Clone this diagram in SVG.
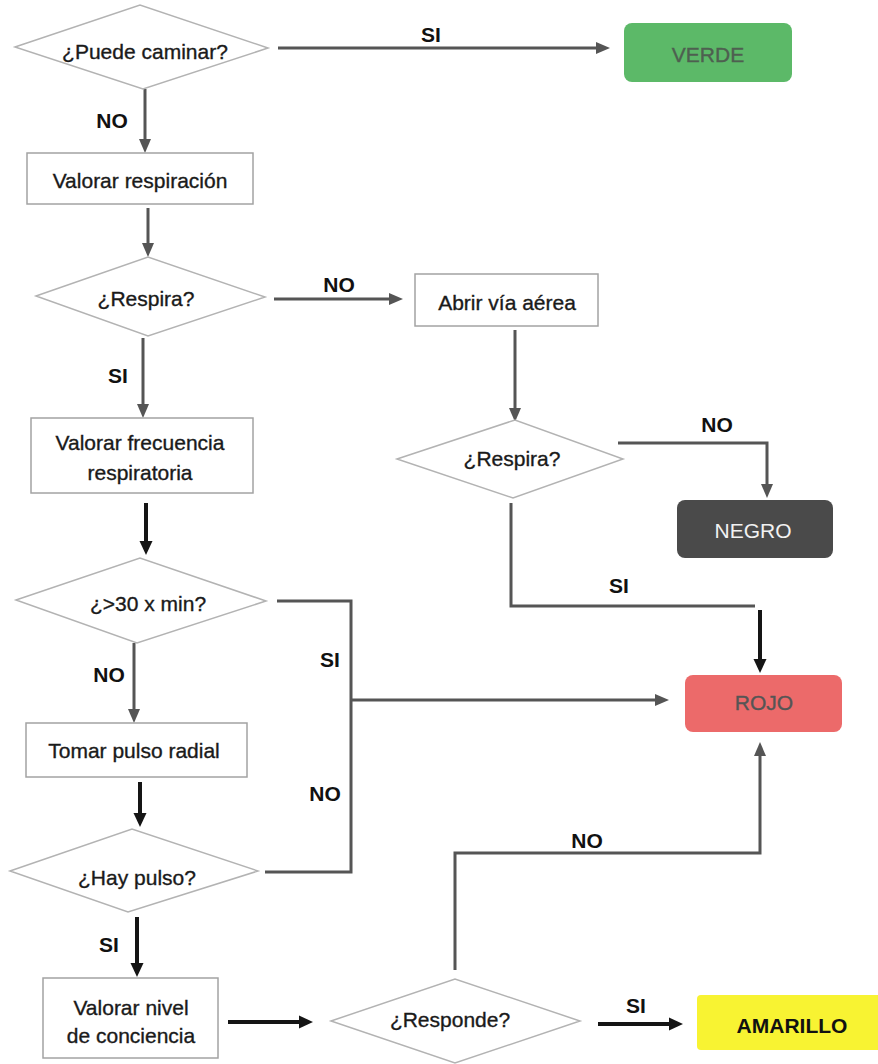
<svg xmlns="http://www.w3.org/2000/svg" width="878" height="1064" viewBox="0 0 878 1064">
<style>
.bg{fill:#ffffff}
.dia{fill:#ffffff;stroke:#b3b3b3;stroke-width:1.5}
.box{fill:#ffffff;stroke:#a3a3a3;stroke-width:1.5}
.t{font-family:"Liberation Sans",Arial,sans-serif;font-size:21px;fill:#1a1a1a;text-anchor:middle;stroke:#1a1a1a;stroke-width:0.35}
.lbl{font-family:"Liberation Sans",Arial,sans-serif;font-size:21px;font-weight:bold;fill:#111;text-anchor:middle}
.cg{fill:none;stroke:#555555;stroke-width:3}
.cb{fill:none;stroke:#151515;stroke-width:4}
</style>
<defs>
<marker id="ag" markerUnits="userSpaceOnUse" markerWidth="14" markerHeight="14" viewBox="0 0 14 14" refX="2" refY="7" orient="auto"><path d="M0,1 L14,7 L0,13 Z" fill="#555555"/></marker>
<marker id="ab" markerUnits="userSpaceOnUse" markerWidth="14" markerHeight="14" viewBox="0 0 14 14" refX="2" refY="7" orient="auto"><path d="M0,0.5 L14,7 L0,13.5 Z" fill="#151515"/></marker>
</defs>
<rect class="bg" x="0" y="0" width="878" height="1064"/>

<g id="connectors">
<path class="cg" d="M278,48 H598" marker-end="url(#ag)"/>
<path class="cg" d="M145,89 V141" marker-end="url(#ag)"/>
<path class="cg" d="M148,208 V245" marker-end="url(#ag)"/>
<path class="cg" d="M274,299 H391" marker-end="url(#ag)"/>
<path class="cg" d="M143,338 V406" marker-end="url(#ag)"/>
<path class="cg" d="M515,330 V410" marker-end="url(#ag)"/>
<path class="cg" d="M618,443 H767 V486" marker-end="url(#ag)"/>
<path class="cg" d="M511,503 V606 H755"/>
<path class="cb" d="M760,610 V661" marker-end="url(#ab)"/>
<path class="cb" d="M146,503 V543" marker-end="url(#ab)"/>
<path class="cg" d="M277,601 H351 V872 H265"/>
<path class="cg" d="M351,700 H657" marker-end="url(#ag)"/>
<path class="cg" d="M134,643 V711" marker-end="url(#ag)"/>
<path class="cb" d="M140,782 V815" marker-end="url(#ab)"/>
<path class="cb" d="M137,917 V965" marker-end="url(#ab)"/>
<path class="cb" d="M228,1022 H301" marker-end="url(#ab)"/>
<path class="cg" d="M455,970 V853 H760 V754" marker-end="url(#ag)"/>
<path class="cb" d="M598,1024 H671" marker-end="url(#ab)"/>
<text class="lbl" x="431" y="42">SI</text>
<text class="lbl" x="112" y="128">NO</text>
<text class="lbl" x="339" y="292">NO</text>
<text class="lbl" x="118" y="383">SI</text>
<text class="lbl" x="717" y="432">NO</text>
<text class="lbl" x="619" y="593">SI</text>
<text class="lbl" x="330" y="667">SI</text>
<text class="lbl" x="109" y="682">NO</text>
<text class="lbl" x="325" y="801">NO</text>
<text class="lbl" x="587" y="848">NO</text>
<text class="lbl" x="109" y="952">SI</text>
<text class="lbl" x="636" y="1013">SI</text>
</g>

<g id="n-caminar">
<polygon class="dia" points="15,47 140,5 268,48 143,89"/>
<text class="t" x="145" y="59">¿Puede caminar?</text>
</g>
<g id="n-verde">
<rect x="624" y="23" width="168" height="59" rx="8" fill="#5cb968"/>
<text class="t" x="708" y="62" style="fill:#4e5f50;stroke:#4e5f50">VERDE</text>
</g>
<g id="n-valorar-resp">
<rect class="box" x="27" y="153" width="226" height="51"/>
<text class="t" x="140" y="188">Valorar respiración</text>
</g>
<g id="n-respira1">
<polygon class="dia" points="36,296 148,257 265,297 148,336"/>
<text class="t" x="146" y="306">¿Respira?</text>
</g>
<g id="n-abrir">
<rect class="box" x="415" y="274" width="183" height="52"/>
<text class="t" x="507" y="310">Abrir vía aérea</text>
</g>
<g id="n-respira2">
<polygon class="dia" points="397,459 515,420 623,459 513,498"/>
<text class="t" x="512" y="466">¿Respira?</text>
</g>
<g id="n-negro">
<rect x="677" y="500" width="156" height="58" rx="8" fill="#4a4a4a"/>
<text class="t" x="753" y="538" style="fill:#f2f2f2;stroke:none">NEGRO</text>
</g>
<g id="n-frecuencia">
<rect class="box" x="31" y="418" width="222" height="75"/>
<text class="t" x="140" y="450">Valorar frecuencia</text>
<text class="t" x="140" y="480">respiratoria</text>
</g>
<g id="n-30">
<polygon class="dia" points="16,600 140,558 266,601 137,643"/>
<text class="t" x="148" y="611">¿&gt;30 x min?</text>
</g>
<g id="n-rojo">
<rect x="685" y="675" width="157" height="57" rx="8" fill="#ec6a6a"/>
<text class="t" x="764" y="710" style="fill:#555;stroke:#555">ROJO</text>
</g>
<g id="n-tomar">
<rect class="box" x="26" y="723" width="221" height="54"/>
<text class="t" x="134" y="758">Tomar pulso radial</text>
</g>
<g id="n-pulso">
<polygon class="dia" points="10,871 132,829 258,871 128,912"/>
<text class="t" x="137" y="885">¿Hay pulso?</text>
</g>
<g id="n-nivel">
<rect class="box" x="43" y="978" width="175" height="80"/>
<text class="t" x="131" y="1015">Valorar nivel</text>
<text class="t" x="131" y="1043">de conciencia</text>
</g>
<g id="n-responde">
<polygon class="dia" points="331,1021 455,979 580,1021 455,1063"/>
<text class="t" x="450" y="1027">¿Responde?</text>
</g>
<g id="n-amarillo">
<rect x="697" y="995" width="185" height="55" rx="4" fill="#f8f332"/>
<text class="lbl" x="792" y="1033">AMARILLO</text>
</g>
</svg>
